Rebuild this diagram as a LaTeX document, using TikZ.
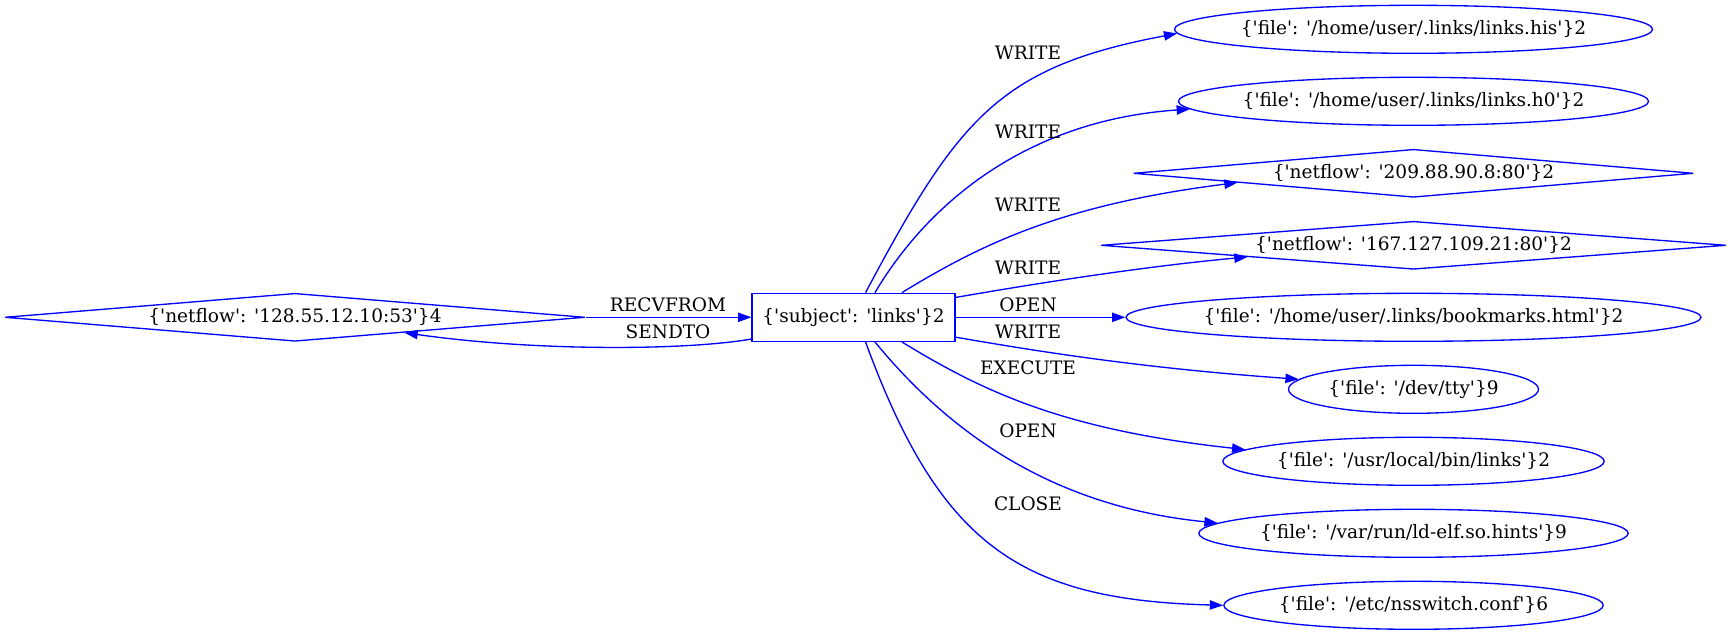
\documentclass[tikz,border=0pt]{standalone}
\usepackage{fontspec}
\setmainfont{DejaVu Serif}
\usetikzlibrary{
    arrows.meta,
    shapes.geometric,
}
\newcommand{\provrec}[2]{\{\textquotesingle#1\textquotesingle: \textquotesingle#2\textquotesingle\}}

\begin{document}
\begin{tikzpicture}[
    x=0.75pt, y=-0.75pt,
    >={Triangle[length=10pt, width=7pt]},
    every node/.style={font=\fontsize{13.9pt}{16pt}\selectfont, inner sep=0pt},
    graph node/.style={draw=blue, line width=1pt, minimum height=36pt},
    file/.style={graph node, ellipse, inner xsep=-8pt},
    netflow/.style={graph node, diamond, aspect=12},
    subject/.style={graph node, rectangle},
    flow/.style={->, blue, line width=1pt},
    flow label/.style={}
    ]

    \def\cx{1413.5}   % column of targets
    \def\sx{853.5}    % subject column

    \useasboundingbox (0,0) rectangle (1731,635);

    \node[netflow, minimum width=435pt] (src) at (295,317.3) {\provrec{netflow}{128.55.12.10:53}4};
    \node[subject, minimum width=152.25pt] (sub) at (\sx,317.3) {\provrec{subject}{links}2};

    \node[file, minimum width=358.5pt] (his) at (\cx,29.3) {\provrec{file}{/home/user/.links/links.his}2};
    \node[file, minimum width=352.5pt] (hzero) at (\cx,101.3) {\provrec{file}{/home/user/.links/links.h0}2};
    \node[netflow, minimum width=420pt] (nfa) at (\cx,173.3) {\provrec{netflow}{209.88.90.8:80}2};
    \node[netflow, minimum width=468.75pt, aspect=13] (nfb) at (\cx,245.3) {\provrec{netflow}{167.127.109.21:80}2};
    \node[file, minimum width=431.25pt] (bm) at (\cx,317.3) {\provrec{file}{/home/user/.links/bookmarks.html}2};
    \node[file, minimum width=187.5pt] (tty) at (\cx,389.3) {\provrec{file}{/dev/tty}9};
    \node[file, minimum width=286pt] (bin) at (\cx,461.3) {\provrec{file}{/usr/local/bin/links}2};
    \node[file, minimum width=322pt] (hints) at (\cx,533.3) {\provrec{file}{/var/run/ld-elf.so.hints}9};
    \node[file, minimum width=284.5pt] (nss) at (\cx,605.3) {\provrec{file}{/etc/nsswitch.conf}6};

    \draw[flow] (src.east) -- (sub.west);
    \draw[flow] (sub.192.6) .. controls (690,350) and (540,352) .. (src.352.2);

    \draw[flow] (sub.64.4) .. controls (959,117) and (1000,67) .. (his.181);
    \draw[flow] (sub.49.5) .. controls (930,200) and (1030,120) .. (hzero.182.6);
    \draw[flow] (sub.27.6) .. controls (980,245) and (1060,205) .. (nfa.183.9);
    \draw[flow] (sub.11.9) .. controls (1050,281) and (1150,266) .. (nfb.184.5);
    \draw[flow] (sub.east) -- (bm.west);
    \draw[flow] (sub.-11.9) .. controls (1050,353.6) and (1150,368.6) .. (tty.175.9);
    \draw[flow] (sub.-27.6) .. controls (980,389.6) and (1060,429.6) .. (bin.176.4);
    \draw[flow] (sub.-49.5) .. controls (935,415) and (1035,505) .. (hints.177.7);
    \draw[flow] (sub.-64.4) .. controls (940,545) and (1020,600) .. (nss.west);

    \node[flow label] (l-recv) at (668,305) {RECVFROM};
    \node[flow label] (l-send) at (668,332) {SENDTO};
    \node[flow label] (l-his) at (1028,53) {WRITE};
    \node[flow label] (l-hzero) at (1028,132) {WRITE};
    \node[flow label] (l-nfa) at (1028,205) {WRITE};
    \node[flow label] (l-nfb) at (1028,268) {WRITE};
    \node[flow label] (l-bm) at (1028,305) {OPEN};
    \node[flow label] (l-tty) at (1028,332) {WRITE};
    \node[flow label] (l-bin) at (1028,368) {EXECUTE};
    \node[flow label] (l-hints) at (1028,431) {OPEN};
    \node[flow label] (l-nss) at (1028,504) {CLOSE};

\end{tikzpicture}
\end{document}
